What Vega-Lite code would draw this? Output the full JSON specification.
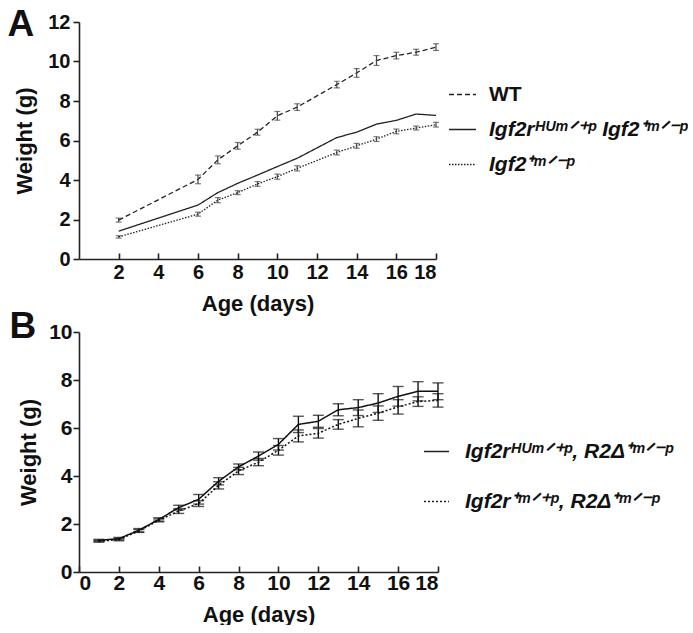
{
  "$schema": "https://vega.github.io/schema/vega-lite/v6.json",
  "background": "white",
  "padding": {"left": 7, "top": 5, "right": 0, "bottom": 0},
  "config": {
    "view": {"stroke": null},
    "font": "Liberation Sans",
    "axis": {
      "grid": false,
      "labelOverlap": false,
      "domainColor": "#222",
      "domainWidth": 1.6,
      "tickColor": "#222",
      "tickWidth": 1.6,
      "labelFont": "Liberation Sans",
      "labelFontWeight": "bold",
      "labelColor": "#111",
      "titleFont": "Liberation Sans",
      "titleFontWeight": "bold",
      "titleColor": "#111"
    },
    "axisBottom": {"tickSize": -6},
    "axisLeft": {"tickSize": 6},
    "axisTop": {"domain": false, "ticks": false, "labels": false, "titleFontSize": 37, "titleAnchor": "start", "titleAlign": "left", "titleBaseline": "alphabetic", "titleX": -72, "titleY": 13},
    "legend": {
      "symbolType": "stroke",
      "symbolStrokeColor": "#222",
      "symbolStrokeWidth": 1.3,
      "labelFont": "Liberation Sans",
      "labelFontWeight": "bold",
      "labelColor": "#111",
      "labelLimit": 400,
      "padding": 0
    }
  },
  "datasets": {
    "a": [
      {"day": 2, "weight": 1.97, "se": 0.1, "group": "WT"},
      {"day": 6, "weight": 4.03, "se": 0.22, "group": "WT"},
      {"day": 7, "weight": 5.02, "se": 0.2, "group": "WT"},
      {"day": 8, "weight": 5.73, "se": 0.17, "group": "WT"},
      {"day": 9, "weight": 6.42, "se": 0.15, "group": "WT"},
      {"day": 10, "weight": 7.25, "se": 0.22, "group": "WT"},
      {"day": 11, "weight": 7.69, "se": 0.17, "group": "WT"},
      {"day": 13, "weight": 8.83, "se": 0.17, "group": "WT"},
      {"day": 14, "weight": 9.42, "se": 0.22, "group": "WT"},
      {"day": 15, "weight": 10.05, "se": 0.25, "group": "WT"},
      {"day": 16, "weight": 10.3, "se": 0.17, "group": "WT"},
      {"day": 17, "weight": 10.47, "se": 0.15, "group": "WT"},
      {"day": 18, "weight": 10.73, "se": 0.17, "group": "WT"},
      {"day": 2, "weight": 1.41, "se": null, "group": "Igf2rᴴᵁᵐᐟ⁺ᵖ Igf2⁺ᵐᐟ⁻ᵖ"},
      {"day": 6, "weight": 2.73, "se": null, "group": "Igf2rᴴᵁᵐᐟ⁺ᵖ Igf2⁺ᵐᐟ⁻ᵖ"},
      {"day": 7, "weight": 3.36, "se": null, "group": "Igf2rᴴᵁᵐᐟ⁺ᵖ Igf2⁺ᵐᐟ⁻ᵖ"},
      {"day": 8, "weight": 3.83, "se": null, "group": "Igf2rᴴᵁᵐᐟ⁺ᵖ Igf2⁺ᵐᐟ⁻ᵖ"},
      {"day": 9, "weight": 4.25, "se": null, "group": "Igf2rᴴᵁᵐᐟ⁺ᵖ Igf2⁺ᵐᐟ⁻ᵖ"},
      {"day": 10, "weight": 4.68, "se": null, "group": "Igf2rᴴᵁᵐᐟ⁺ᵖ Igf2⁺ᵐᐟ⁻ᵖ"},
      {"day": 11, "weight": 5.1, "se": null, "group": "Igf2rᴴᵁᵐᐟ⁺ᵖ Igf2⁺ᵐᐟ⁻ᵖ"},
      {"day": 13, "weight": 6.15, "se": null, "group": "Igf2rᴴᵁᵐᐟ⁺ᵖ Igf2⁺ᵐᐟ⁻ᵖ"},
      {"day": 14, "weight": 6.42, "se": null, "group": "Igf2rᴴᵁᵐᐟ⁺ᵖ Igf2⁺ᵐᐟ⁻ᵖ"},
      {"day": 15, "weight": 6.83, "se": null, "group": "Igf2rᴴᵁᵐᐟ⁺ᵖ Igf2⁺ᵐᐟ⁻ᵖ"},
      {"day": 16, "weight": 7.02, "se": null, "group": "Igf2rᴴᵁᵐᐟ⁺ᵖ Igf2⁺ᵐᐟ⁻ᵖ"},
      {"day": 17, "weight": 7.34, "se": null, "group": "Igf2rᴴᵁᵐᐟ⁺ᵖ Igf2⁺ᵐᐟ⁻ᵖ"},
      {"day": 18, "weight": 7.27, "se": null, "group": "Igf2rᴴᵁᵐᐟ⁺ᵖ Igf2⁺ᵐᐟ⁻ᵖ"},
      {"day": 2, "weight": 1.12, "se": 0.06, "group": "Igf2⁺ᵐᐟ⁻ᵖ"},
      {"day": 6, "weight": 2.27, "se": 0.1, "group": "Igf2⁺ᵐᐟ⁻ᵖ"},
      {"day": 7, "weight": 2.98, "se": 0.13, "group": "Igf2⁺ᵐᐟ⁻ᵖ"},
      {"day": 8, "weight": 3.36, "se": 0.1, "group": "Igf2⁺ᵐᐟ⁻ᵖ"},
      {"day": 9, "weight": 3.8, "se": 0.12, "group": "Igf2⁺ᵐᐟ⁻ᵖ"},
      {"day": 10, "weight": 4.17, "se": 0.13, "group": "Igf2⁺ᵐᐟ⁻ᵖ"},
      {"day": 11, "weight": 4.59, "se": 0.13, "group": "Igf2⁺ᵐᐟ⁻ᵖ"},
      {"day": 13, "weight": 5.39, "se": 0.12, "group": "Igf2⁺ᵐᐟ⁻ᵖ"},
      {"day": 14, "weight": 5.73, "se": 0.12, "group": "Igf2⁺ᵐᐟ⁻ᵖ"},
      {"day": 15, "weight": 6.07, "se": 0.12, "group": "Igf2⁺ᵐᐟ⁻ᵖ"},
      {"day": 16, "weight": 6.46, "se": 0.12, "group": "Igf2⁺ᵐᐟ⁻ᵖ"},
      {"day": 17, "weight": 6.63, "se": 0.1, "group": "Igf2⁺ᵐᐟ⁻ᵖ"},
      {"day": 18, "weight": 6.8, "se": 0.12, "group": "Igf2⁺ᵐᐟ⁻ᵖ"}
    ],
    "b": [
      {"day": 1, "weight": 1.32, "se": 0.04, "group": "Igf2rᴴᵁᵐᐟ⁺ᵖ, R2Δ⁺ᵐᐟ⁻ᵖ"},
      {"day": 2, "weight": 1.39, "se": 0.05, "group": "Igf2rᴴᵁᵐᐟ⁺ᵖ, R2Δ⁺ᵐᐟ⁻ᵖ"},
      {"day": 3, "weight": 1.74, "se": 0.07, "group": "Igf2rᴴᵁᵐᐟ⁺ᵖ, R2Δ⁺ᵐᐟ⁻ᵖ"},
      {"day": 4, "weight": 2.19, "se": 0.07, "group": "Igf2rᴴᵁᵐᐟ⁺ᵖ, R2Δ⁺ᵐᐟ⁻ᵖ"},
      {"day": 5, "weight": 2.68, "se": 0.1, "group": "Igf2rᴴᵁᵐᐟ⁺ᵖ, R2Δ⁺ᵐᐟ⁻ᵖ"},
      {"day": 6, "weight": 3.03, "se": 0.2, "group": "Igf2rᴴᵁᵐᐟ⁺ᵖ, R2Δ⁺ᵐᐟ⁻ᵖ"},
      {"day": 7, "weight": 3.78, "se": 0.15, "group": "Igf2rᴴᵁᵐᐟ⁺ᵖ, R2Δ⁺ᵐᐟ⁻ᵖ"},
      {"day": 8, "weight": 4.38, "se": 0.12, "group": "Igf2rᴴᵁᵐᐟ⁺ᵖ, R2Δ⁺ᵐᐟ⁻ᵖ"},
      {"day": 9, "weight": 4.83, "se": 0.17, "group": "Igf2rᴴᵁᵐᐟ⁺ᵖ, R2Δ⁺ᵐᐟ⁻ᵖ"},
      {"day": 10, "weight": 5.32, "se": 0.24, "group": "Igf2rᴴᵁᵐᐟ⁺ᵖ, R2Δ⁺ᵐᐟ⁻ᵖ"},
      {"day": 11, "weight": 6.15, "se": 0.34, "group": "Igf2rᴴᵁᵐᐟ⁺ᵖ, R2Δ⁺ᵐᐟ⁻ᵖ"},
      {"day": 12, "weight": 6.28, "se": 0.25, "group": "Igf2rᴴᵁᵐᐟ⁺ᵖ, R2Δ⁺ᵐᐟ⁻ᵖ"},
      {"day": 13, "weight": 6.76, "se": 0.25, "group": "Igf2rᴴᵁᵐᐟ⁺ᵖ, R2Δ⁺ᵐᐟ⁻ᵖ"},
      {"day": 14, "weight": 6.85, "se": 0.33, "group": "Igf2rᴴᵁᵐᐟ⁺ᵖ, R2Δ⁺ᵐᐟ⁻ᵖ"},
      {"day": 15, "weight": 7.04, "se": 0.39, "group": "Igf2rᴴᵁᵐᐟ⁺ᵖ, R2Δ⁺ᵐᐟ⁻ᵖ"},
      {"day": 16, "weight": 7.32, "se": 0.41, "group": "Igf2rᴴᵁᵐᐟ⁺ᵖ, R2Δ⁺ᵐᐟ⁻ᵖ"},
      {"day": 17, "weight": 7.53, "se": 0.4, "group": "Igf2rᴴᵁᵐᐟ⁺ᵖ, R2Δ⁺ᵐᐟ⁻ᵖ"},
      {"day": 18, "weight": 7.53, "se": 0.35, "group": "Igf2rᴴᵁᵐᐟ⁺ᵖ, R2Δ⁺ᵐᐟ⁻ᵖ"},
      {"day": 1, "weight": 1.28, "se": 0.04, "group": "Igf2r⁺ᵐᐟ⁺ᵖ, R2Δ⁺ᵐᐟ⁻ᵖ"},
      {"day": 2, "weight": 1.35, "se": 0.05, "group": "Igf2r⁺ᵐᐟ⁺ᵖ, R2Δ⁺ᵐᐟ⁻ᵖ"},
      {"day": 3, "weight": 1.71, "se": 0.06, "group": "Igf2r⁺ᵐᐟ⁺ᵖ, R2Δ⁺ᵐᐟ⁻ᵖ"},
      {"day": 4, "weight": 2.15, "se": 0.06, "group": "Igf2r⁺ᵐᐟ⁺ᵖ, R2Δ⁺ᵐᐟ⁻ᵖ"},
      {"day": 5, "weight": 2.54, "se": 0.1, "group": "Igf2r⁺ᵐᐟ⁺ᵖ, R2Δ⁺ᵐᐟ⁻ᵖ"},
      {"day": 6, "weight": 2.85, "se": 0.12, "group": "Igf2r⁺ᵐᐟ⁺ᵖ, R2Δ⁺ᵐᐟ⁻ᵖ"},
      {"day": 7, "weight": 3.61, "se": 0.15, "group": "Igf2r⁺ᵐᐟ⁺ᵖ, R2Δ⁺ᵐᐟ⁻ᵖ"},
      {"day": 8, "weight": 4.21, "se": 0.15, "group": "Igf2r⁺ᵐᐟ⁺ᵖ, R2Δ⁺ᵐᐟ⁻ᵖ"},
      {"day": 9, "weight": 4.58, "se": 0.15, "group": "Igf2r⁺ᵐᐟ⁺ᵖ, R2Δ⁺ᵐᐟ⁻ᵖ"},
      {"day": 10, "weight": 5.07, "se": 0.2, "group": "Igf2r⁺ᵐᐟ⁺ᵖ, R2Δ⁺ᵐᐟ⁻ᵖ"},
      {"day": 11, "weight": 5.67, "se": 0.25, "group": "Igf2r⁺ᵐᐟ⁺ᵖ, R2Δ⁺ᵐᐟ⁻ᵖ"},
      {"day": 12, "weight": 5.78, "se": 0.2, "group": "Igf2r⁺ᵐᐟ⁺ᵖ, R2Δ⁺ᵐᐟ⁻ᵖ"},
      {"day": 13, "weight": 6.15, "se": 0.2, "group": "Igf2r⁺ᵐᐟ⁺ᵖ, R2Δ⁺ᵐᐟ⁻ᵖ"},
      {"day": 14, "weight": 6.4, "se": 0.35, "group": "Igf2r⁺ᵐᐟ⁺ᵖ, R2Δ⁺ᵐᐟ⁻ᵖ"},
      {"day": 15, "weight": 6.62, "se": 0.3, "group": "Igf2r⁺ᵐᐟ⁺ᵖ, R2Δ⁺ᵐᐟ⁻ᵖ"},
      {"day": 16, "weight": 6.88, "se": 0.3, "group": "Igf2r⁺ᵐᐟ⁺ᵖ, R2Δ⁺ᵐᐟ⁻ᵖ"},
      {"day": 17, "weight": 7.1, "se": 0.2, "group": "Igf2r⁺ᵐᐟ⁺ᵖ, R2Δ⁺ᵐᐟ⁻ᵖ"},
      {"day": 18, "weight": 7.15, "se": 0.28, "group": "Igf2r⁺ᵐᐟ⁺ᵖ, R2Δ⁺ᵐᐟ⁻ᵖ"}
    ]
  },
  "bounds": "flush",
  "spacing": 73,
  "resolve": {
    "scale": {"x": "independent", "y": "independent", "strokeDash": "independent"},
    "legend": {"strokeDash": "independent"}
  },
  "vconcat": [
    {
      "width": 357,
      "height": 237,
      "data": {"name": "a"},
      "layer": [
        {
          "mark": {"type": "line", "strokeWidth": 1.3, "color": "#222"},
          "encoding": {
            "x": {"field": "day", "type": "quantitative", "scale": {"domain": [0, 18], "nice": false}, "title": "Age (days)",
                  "axis": {"orient": "bottom", "values": [2, 4, 6, 8, 10, 12, 14, 16, 18], "labelOverlap": false, "labelFontSize": 20, "titleFontSize": 22, "labelPadding": 9, "titlePadding": 11}},
            "y": {"field": "weight", "type": "quantitative", "scale": {"domain": [0, 12], "nice": false}, "title": "Weight (g)",
                  "axis": {"values": [0, 2, 4, 6, 8, 10, 12], "labelOverlap": false, "labelFontSize": 20, "titleFontSize": 22, "labelPadding": 3, "titlePadding": 11}},
            "strokeDash": {"field": "group", "type": "nominal",
              "scale": {"domain": ["WT", "Igf2rᴴᵁᵐᐟ⁺ᵖ Igf2⁺ᵐᐟ⁻ᵖ", "Igf2⁺ᵐᐟ⁻ᵖ"], "range": [[5, 3], [1, 0], [1.5, 1.5]]},
              "legend": {"title": null, "orient": "none", "legendX": 369, "legendY": 58, "symbolSize": 729, "labelFontSize": 21, "labelOffset": 12, "rowPadding": 10,
                "encode": {"labels": {"update": {"fontStyle": {"signal": "datum.label === 'WT' ? 'normal' : 'italic'"}}}}}}
          }
        },
        {
          "transform": [{"filter": "datum.se != null"}],
          "mark": {"type": "errorbar", "color": "#444", "thickness": 1.2, "ticks": {"size": 6}},
          "encoding": {
            "x": {"field": "day", "type": "quantitative", "title": "A", "axis": {"orient": "top"}},
            "y": {"field": "weight", "type": "quantitative", "title": "Weight (g)",
                  "axis": {"values": [0, 2, 4, 6, 8, 10, 12], "labelOverlap": false, "labelFontSize": 20, "titleFontSize": 22, "labelPadding": 3, "titlePadding": 11}},
            "yError": {"field": "se"},
            "detail": {"field": "group"}
          }
        }
      ]
    },
    {
      "width": 359,
      "height": 240,
      "data": {"name": "b"},
      "layer": [
        {
          "mark": {"type": "line", "strokeWidth": 1.5, "color": "#111"},
          "encoding": {
            "x": {"field": "day", "type": "quantitative", "scale": {"domain": [0, 18], "nice": false}, "title": "Age (days)",
                  "axis": {"orient": "bottom", "values": [0, 2, 4, 6, 8, 10, 12, 14, 16, 18], "labelOverlap": false, "labelFontSize": 21, "titleFontSize": 22, "labelPadding": 6, "titlePadding": 11}},
            "y": {"field": "weight", "type": "quantitative", "scale": {"domain": [0, 10], "nice": false}, "title": "Weight (g)",
                  "axis": {"values": [0, 2, 4, 6, 8, 10], "labelOverlap": false, "labelFontSize": 21, "titleFontSize": 22, "labelPadding": 1, "titlePadding": 8}},
            "strokeDash": {"field": "group", "type": "nominal",
              "scale": {"domain": ["Igf2rᴴᵁᵐᐟ⁺ᵖ, R2Δ⁺ᵐᐟ⁻ᵖ", "Igf2r⁺ᵐᐟ⁺ᵖ, R2Δ⁺ᵐᐟ⁻ᵖ"], "range": [[1, 0], [2, 2]]},
              "legend": {"title": null, "orient": "none", "legendX": 344, "legendY": 106, "symbolSize": 625, "labelFontSize": 21, "labelOffset": 15, "rowPadding": 26,
                "encode": {"labels": {"update": {"fontStyle": {"value": "italic"}}}}}}
          }
        },
        {
          "mark": {"type": "errorbar", "color": "#111", "thickness": 1.4, "ticks": {"size": 11}},
          "encoding": {
            "x": {"field": "day", "type": "quantitative", "title": "B", "axis": {"orient": "top", "titleX": -70, "titleY": 5}},
            "y": {"field": "weight", "type": "quantitative", "title": "Weight (g)",
                  "axis": {"values": [0, 2, 4, 6, 8, 10], "labelOverlap": false, "labelFontSize": 21, "titleFontSize": 22, "labelPadding": 1, "titlePadding": 8}},
            "yError": {"field": "se"},
            "detail": {"field": "group"}
          }
        }
      ]
    }
  ]
}
